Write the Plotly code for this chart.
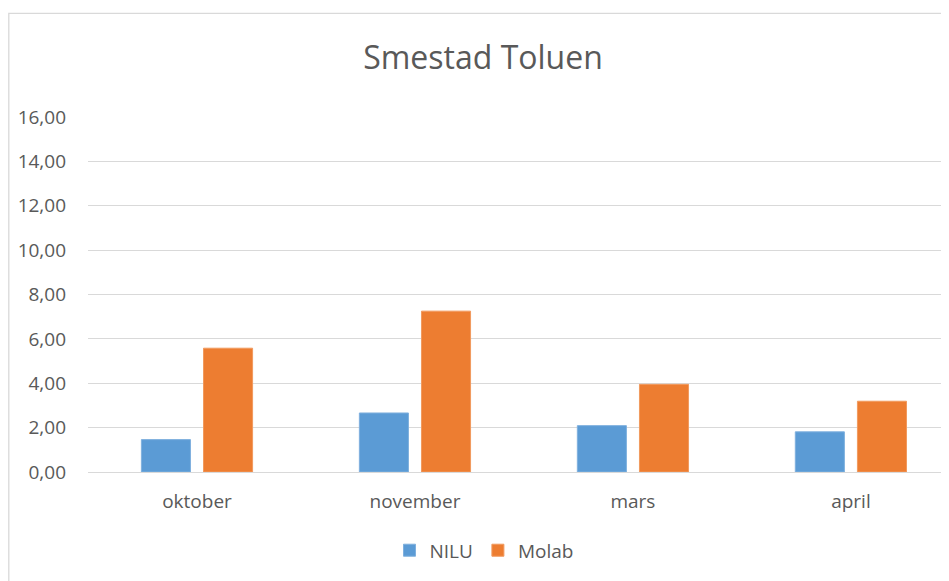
import plotly.graph_objects as go

categories = ["oktober", "november", "mars", "april"]
nilu = [1.46, 2.66, 2.09, 1.81]
molab = [5.58, 7.25, 3.95, 3.19]
tick_vals = [0, 2, 4, 6, 8, 10, 12, 14, 16]
tick_text = ["0,00", "2,00", "4,00", "6,00", "8,00", "10,00", "12,00", "14,00", "16,00"]

# page has an 8px body margin; figure coordinates = page coordinates - 8
OFF = 8
W, H = 949 - OFF, 581 - OFF
L, R = 88 - OFF, 0
T = 117 - OFF
B = H - (471.7 - OFF)

fig = go.Figure()
fig.add_trace(go.Bar(name="NILU", x=categories, y=nilu,
                     marker=dict(color="#5B9BD5", line=dict(color="#7FB0DE", width=1))))
fig.add_trace(go.Bar(name="Molab", x=categories, y=molab,
                     marker=dict(color="#ED7D31", line=dict(color="#F19A5E", width=1))))

pw = W - L - R
ph = H - T - B


def px_x(p):
    return (p - OFF - L) / pw


def px_y(p):
    return (H - B - (p - OFF)) / ph


# outer chart border
fig.add_shape(type="rect", xref="paper", yref="paper",
              x0=px_x(8.8), x1=px_x(960), y0=px_y(600), y1=px_y(13.5),
              line=dict(color="#D9D9D9", width=1.3), fillcolor="rgba(0,0,0,0)", layer="below")

fig.update_layout(
    width=W, height=H,
    margin=dict(l=L, r=R, t=T, b=B),
    paper_bgcolor="white", plot_bgcolor="white",
    barmode="group", bargap=0.43, bargroupgap=0.21,
    font=dict(family="Open Sans", color="#595959"),
    title=dict(text="Smestad Toluen", x=(483 - OFF) / W, xref="container", xanchor="center",
               y=1 - (58 - OFF) / H, yref="container", yanchor="middle",
               font=dict(size=32, color="#595959", family="Open Sans")),
    xaxis=dict(type="category", range=[-0.5, 3.45], showgrid=False, showline=False,
               ticks="", tickfont=dict(size=19, color="#595959"), ticklabelstandoff=16),
    yaxis=dict(range=[0, 16], tickvals=tick_vals, ticktext=tick_text,
               showgrid=True, gridcolor="#D9D9D9", gridwidth=1.3, zeroline=True,
               zerolinecolor="#D9D9D9", zerolinewidth=1.3, showline=False,
               ticks="", tickfont=dict(size=19, color="#595959"), ticklabelstandoff=21),
    legend=dict(orientation="h", x=px_x(484), xanchor="center",
                y=px_y(550), yanchor="middle",
                font=dict(size=19, color="#595959"), itemwidth=30,
                traceorder="normal"),
    showlegend=True,
)

fig.write_html("out.html")
